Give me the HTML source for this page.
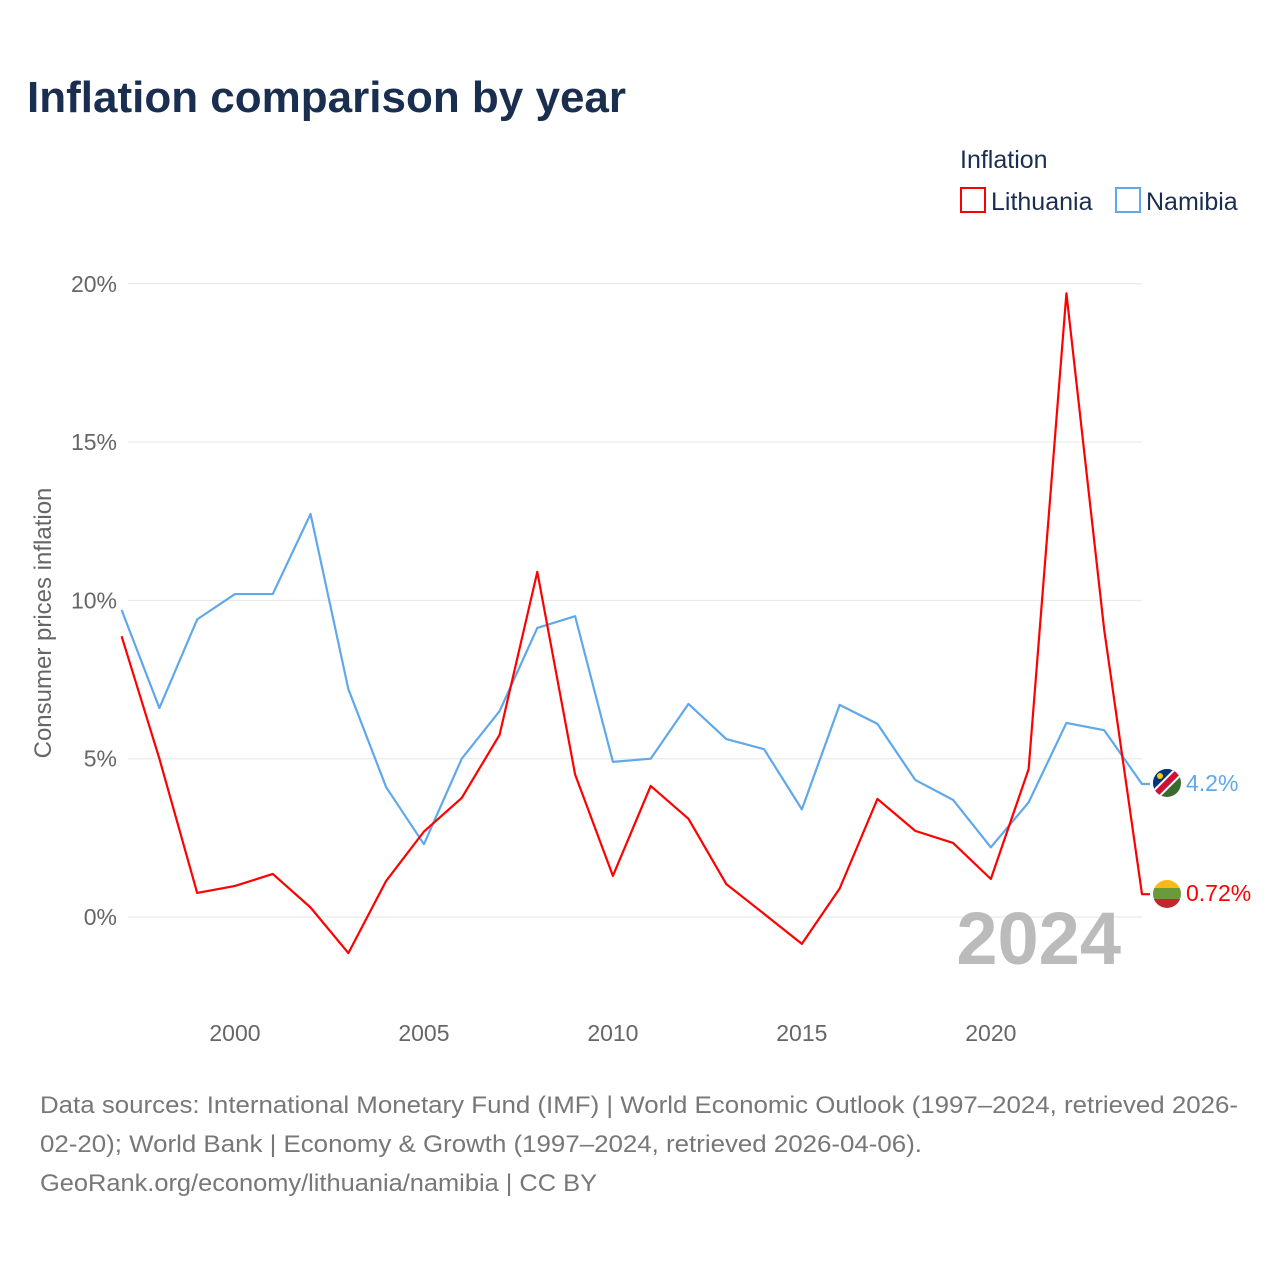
<!DOCTYPE html>
<html><head><meta charset="utf-8"><style>
body{margin:0;background:#fff;font-family:"Liberation Sans",sans-serif}
svg text{font-family:"Liberation Sans",sans-serif}
</style></head><body>
<svg id="chart" width="1280" height="1280" xmlns="http://www.w3.org/2000/svg">
<rect width="1280" height="1280" fill="#fff"/>
<text x="27" y="112" font-size="44" font-weight="bold" fill="#1a2e4f">Inflation comparison by year</text>
<text x="960" y="168" font-size="25" fill="#1a2e4f">Inflation</text>
<g><rect x="961" y="188" width="24" height="24" fill="none" stroke="#f00" stroke-width="2"/><text x="991" y="210" font-size="25" fill="#1a2e4f">Lithuania</text></g>
<g><rect x="1116" y="188" width="24" height="24" fill="none" stroke="#5fa8ea" stroke-width="2"/><text x="1146" y="210" font-size="25" fill="#1a2e4f">Namibia</text></g>
<text transform="translate(51,623) rotate(-90)" text-anchor="middle" font-size="24" fill="#666">Consumer prices inflation</text>
<g id="grid"></g><g id="xt"></g>
<text x="1121" y="964" text-anchor="end" font-size="74" font-weight="bold" fill="#bbb">2024</text>
<g id="series"></g>
<g>
<clipPath id="cn"><circle cx="1167" cy="783" r="14"/></clipPath>
<g clip-path="url(#cn)"><rect x="1150" y="766" width="34" height="34" fill="#3a6b2e"/><polygon points="1150,766 1184,766 1150,800" fill="#003580"/><line x1="1150" y1="800" x2="1184" y2="766" stroke="#fff" stroke-width="10"/><line x1="1150" y1="800" x2="1184" y2="766" stroke="#d21034" stroke-width="6"/><circle cx="1160" cy="776" r="3" fill="#ffce00"/></g></g>
<g>
<clipPath id="cl"><circle cx="1167" cy="894" r="14"/></clipPath>
<g clip-path="url(#cl)"><rect x="1150" y="877" width="34" height="11" fill="#fdb913"/><rect x="1150" y="888" width="34" height="11" fill="#6a9a3a"/><rect x="1150" y="899" width="34" height="12" fill="#c1272d"/></g></g>
<text x="1186" y="791" font-size="23" fill="#5fa8ea">4.2%</text>
<text x="1186" y="901" font-size="23" fill="#f00">0.72%</text>
<text font-size="24" fill="#777"><tspan x="40" y="1113" textLength="1198" lengthAdjust="spacingAndGlyphs">Data sources: International Monetary Fund (IMF) | World Economic Outlook (1997–2024, retrieved 2026-</tspan><tspan x="40" y="1152" textLength="882" lengthAdjust="spacingAndGlyphs">02-20); World Bank | Economy &amp; Growth (1997–2024, retrieved 2026-04-06).</tspan><tspan x="40" y="1191" textLength="557" lengthAdjust="spacingAndGlyphs">GeoRank.org/economy/lithuania/namibia | CC BY</tspan></text>
</svg>
<script>
const years=[1997,1998,1999,2000,2001,2002,2003,2004,2005,2006,2007,2008,2009,2010,2011,2012,2013,2014,2015,2016,2017,2018,2019,2020,2021,2022,2023,2024];
const lithuania=[8.87,5.0,0.76,0.98,1.36,0.3,-1.14,1.14,2.7,3.76,5.75,10.9,4.5,1.3,4.14,3.1,1.04,0.1,-0.85,0.9,3.73,2.72,2.34,1.2,4.67,19.7,9.07,0.72];
const namibia=[9.7,6.6,9.4,10.2,10.2,12.73,7.2,4.1,2.3,5.0,6.5,9.13,9.5,4.9,5.0,6.73,5.62,5.3,3.4,6.7,6.1,4.33,3.7,2.2,3.62,6.13,5.9,4.2];
const yTicks=[0,5,10,15,20];
const xTicks=[2000,2005,2010,2015,2020];
const NS="http://www.w3.org/2000/svg";
const x=v=>121.6+(v-1997)*(1142-121.6)/27;
const y=v=>917-v*31.66;
const grid=document.getElementById('grid'),xt=document.getElementById('xt'),ser=document.getElementById('series');
yTicks.forEach(t=>{
 const l=document.createElementNS(NS,'line');
 
 
 l.setAttribute('x1',128);l.setAttribute('x2',1142);l.setAttribute('y1',y(t));l.setAttribute('y2',y(t));
 l.setAttribute('stroke','#e6e6e6');l.setAttribute('stroke-width',1);grid.appendChild(l);
 const tx=document.createElementNS(NS,'text');
 
 
 tx.setAttribute('x',117);tx.setAttribute('y',y(t)+8);tx.setAttribute('text-anchor','end');
 tx.setAttribute('font-size',23);tx.setAttribute('fill','#666');tx.textContent=t+'%';grid.appendChild(tx);
});
xTicks.forEach(t=>{
 const tx=document.createElementNS(NS,'text');
 
 
 tx.setAttribute('x',x(t));tx.setAttribute('y',1041);tx.setAttribute('text-anchor','middle');
 tx.setAttribute('font-size',23);tx.setAttribute('fill','#666');tx.textContent=t;xt.appendChild(tx);
});
function line(vals,color,name){
 let pts=vals.map((v,i)=>x(years[i])+','+y(v));
 pts.push((x(years[years.length-1])+8)+','+y(vals[vals.length-1]));
 const p=document.createElementNS(NS,'polyline');
 
 
 p.setAttribute('points',pts.join(' '));p.setAttribute('fill','none');
 p.setAttribute('stroke',color);p.setAttribute('stroke-width',2.2);p.setAttribute('stroke-linejoin','round');
 ser.appendChild(p);
}
line(namibia,'#5fa8ea','namibia-line');
line(lithuania,'#f00','lithuania-line');
</script>
</body></html>
